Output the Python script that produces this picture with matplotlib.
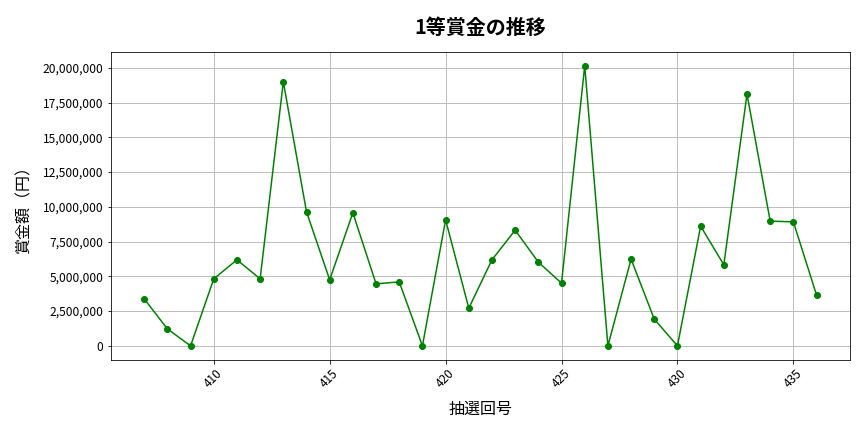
import matplotlib
matplotlib.use("Agg")
import matplotlib.pyplot as plt
from matplotlib.ticker import FuncFormatter

plt.rcParams['font.family'] = ['Noto Sans CJK JP', 'DejaVu Sans']

draws = list(range(407, 437))
prizes = [3380000, 1220000, 0, 4820000, 6190000, 4820000, 18990000, 9640000,
          4750000, 9570000, 4460000, 4600000, 0, 9060000, 2710000, 6190000,
          8320000, 6020000, 4510000, 20140000, 0, 6240000, 1920000, 0,
          8610000, 5830000, 18110000, 8970000, 8920000, 3650000]

title = "1等賞金の推移"
xlabel = "抽選回号"
ylabel = "賞金額（円）"

fig = plt.figure(figsize=(12, 6), dpi=72)
ax = fig.add_axes([0.128, 0.167, 0.856, 0.713])
ax.plot(draws, prizes, color='green', marker='o', markersize=6, linewidth=1.5)
ax.set_title(title, fontsize=20, fontweight='bold', pad=18)
ax.set_xlabel(xlabel, fontsize=16, labelpad=11)
ax.set_ylabel(ylabel, fontsize=16, labelpad=10)
ax.yaxis.set_major_formatter(FuncFormatter(lambda v, p: f"{int(v):,}"))
ax.tick_params(axis='x', rotation=45, labelsize=12)
ax.tick_params(axis='y', labelsize=12)
ax.grid(True, color='#b0b0b0', linewidth=0.8)
fig.savefig("out.png", dpi=72)
